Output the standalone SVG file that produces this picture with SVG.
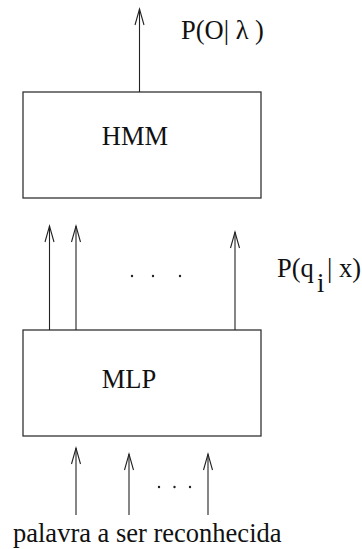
<svg xmlns="http://www.w3.org/2000/svg" width="362" height="549" viewBox="0 0 362 549">
  <style>
    .box { fill: none; stroke: #333; stroke-width: 1.3; }
    .wire { fill: none; stroke: #222; stroke-width: 1.1; }
    .head { fill: none; stroke: #222; stroke-width: 1.1; }
    text { font-family: "Liberation Serif", "Times New Roman", serif; fill: #111; }
    .lbl { font-size: 26.5px; }
    .dot { fill: #222; }
  </style>
  <defs>
    <!-- open V arrowhead pointing up, tip at origin -->
    <path id="vhead" class="head" d="M -4.5 16 L 0 0 L 4.5 16"/>
  </defs>
  <rect width="362" height="549" fill="#fff"/>

  <g id="hmm">
    <rect class="box" x="23" y="92" width="238" height="106"/>
    <text class="lbl" x="135" y="145" text-anchor="middle">HMM</text>
  </g>

  <g id="mlp">
    <rect class="box" x="23" y="330" width="238" height="106"/>
    <text class="lbl" x="129" y="388" text-anchor="middle">MLP</text>
  </g>

  <g id="connectors">
    <!-- HMM output -->
    <line class="wire" x1="139.5" y1="92" x2="139.5" y2="9"/>
    <use href="#vhead" x="139.5" y="9"/>
    <!-- MLP outputs -->
    <line class="wire" x1="49.5" y1="330" x2="49.5" y2="226"/>
    <use href="#vhead" x="49.5" y="226"/>
    <line class="wire" x1="76" y1="330" x2="76" y2="226"/>
    <use href="#vhead" x="76" y="226"/>
    <line class="wire" x1="235" y1="330" x2="235" y2="232"/>
    <use href="#vhead" x="235" y="232"/>
    <!-- inputs -->
    <line class="wire" x1="76" y1="515" x2="76" y2="448"/>
    <use href="#vhead" x="76" y="448"/>
    <line class="wire" x1="129" y1="515" x2="129" y2="454"/>
    <use href="#vhead" x="129" y="454"/>
    <line class="wire" x1="208" y1="515" x2="208" y2="454"/>
    <use href="#vhead" x="208" y="454"/>
  </g>

  <g id="labels">
    <text class="lbl" x="181" y="39">P(O| λ )</text>
    <text class="lbl" x="277" y="276.5">P(q</text>
    <text class="lbl" x="317" y="292">i</text>
    <text class="lbl" x="327" y="276.5">| x)</text>
    <circle class="dot" cx="132" cy="276" r="1.2"/>
    <circle class="dot" cx="153" cy="276" r="1.2"/>
    <circle class="dot" cx="180" cy="276" r="1.2"/>
    <circle class="dot" cx="159" cy="487" r="1.2"/>
    <circle class="dot" cx="174.5" cy="487" r="1.2"/>
    <circle class="dot" cx="190" cy="487" r="1.2"/>
    <text class="lbl" x="13" y="541.5">palavra a ser reconhecida</text>
  </g>
</svg>
